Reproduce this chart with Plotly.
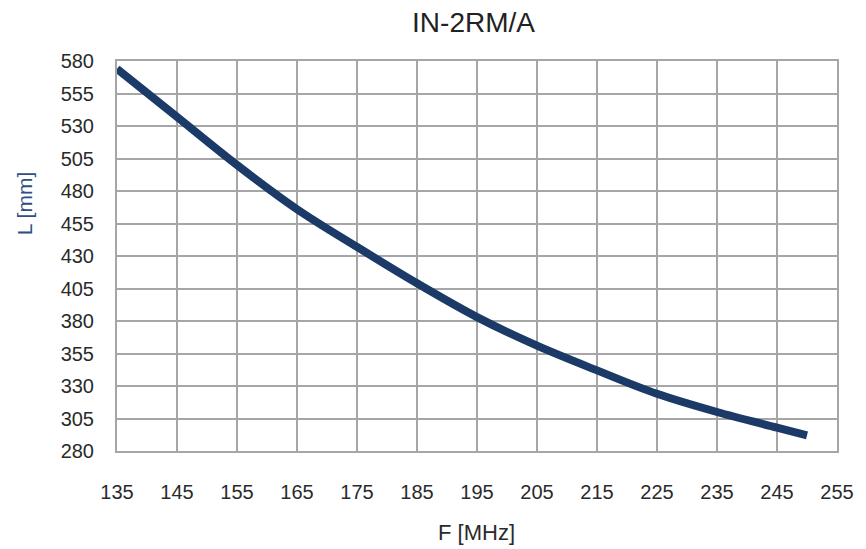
import plotly.graph_objects as go

F_MHz = [135, 145, 155, 165, 175, 185, 195, 205, 215, 225, 235, 245, 250]
L_mm = [574, 537, 500, 466, 437, 409, 383, 361, 342, 324, 310, 298, 292]

x_ticks = list(range(135, 256, 10))
y_ticks = list(range(280, 581, 25))

W, H = 866, 549
ML, MR, MT, MB = 117, 20, 61, 98
plot_w = W - ML - MR
plot_h = H - MT - MB

fig = go.Figure()
fig.add_trace(go.Scatter(
    x=F_MHz, y=L_mm, mode="lines",
    line=dict(color="#1b3a68", width=8, shape="spline", smoothing=1.0),
    hoverinfo="x+y", showlegend=False,
))

grid = "#a6a6a6"
fig.update_layout(
    width=W, height=H,
    margin=dict(l=ML, r=MR, t=MT, b=MB),
    paper_bgcolor="white", plot_bgcolor="white",
    font=dict(family="Liberation Sans, Arial, sans-serif", color="#2a2a2a"),
    title=dict(text="IN-2RM/A", x=(478 - ML) / plot_w, xref="paper", y=1 - 22 / H, yref="container",
               yanchor="middle", xanchor="center",
               font=dict(size=28, color="#222222")),
    xaxis=dict(range=[135, 255], tickvals=x_ticks, showgrid=True, gridcolor=grid, gridwidth=2,
               showline=True, linecolor=grid, linewidth=2, mirror=True, zeroline=False,
               ticks="", ticklabelstandoff=22, tickfont=dict(size=20, color="#2a2a2a")),
    yaxis=dict(range=[280, 580], tickvals=y_ticks, showgrid=True, gridcolor=grid, gridwidth=2,
               showline=True, linecolor=grid, linewidth=2, mirror=True, zeroline=False,
               ticks="", ticklabelstandoff=17, tickfont=dict(size=20, color="#2a2a2a")),
    annotations=[
        dict(text="F [MHz]", x=(481 - ML) / plot_w, xref="paper",
             y=(H - MB - 532) / plot_h, yref="paper", xanchor="center", yanchor="middle",
             showarrow=False, font=dict(size=22, color="#2a2a2a")),
        dict(text="L [mm]", textangle=-90, x=(23 - ML) / plot_w, xref="paper",
             y=(H - MB - 204) / plot_h, yref="paper", xanchor="center", yanchor="middle",
             showarrow=False, font=dict(size=21, color="#2d4f86")),
    ],
)

fig.write_html("out.html", config={"displayModeBar": False},
               post_script="document.body.style.margin='0';")
